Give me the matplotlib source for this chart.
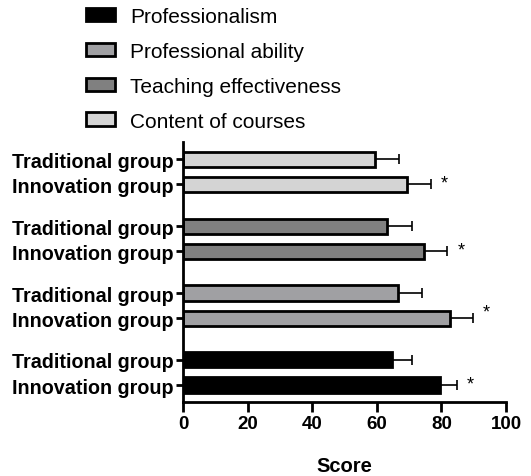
import numpy as np
import matplotlib.pyplot as plt
from matplotlib.patches import Patch

plt.rcParams['font.family'] = ['Liberation Sans', 'DejaVu Sans']

# categories, bottom to top
categories = ['Professionalism', 'Professional ability', 'Teaching effectiveness', 'Content of courses']
colors = ['#000000', '#a0a0a3', '#808080', '#d4d4d4']

innovation_mean = [79.7, 82.6, 74.6, 69.4]
innovation_sd = [5.2, 7.2, 7.2, 7.4]
traditional_mean = [64.6, 66.5, 63.3, 59.5]
traditional_sd = [6.3, 7.4, 7.6, 7.3]

star_x = [89, 94, 86, 81]

group_gap = 2.67
base = np.arange(len(categories)) * group_gap
pos_innov = base
pos_trad = base + 1.0

fig = plt.figure(figsize=(5.31, 4.77), dpi=100)
ax = fig.add_axes([0.3446, 0.155, 0.6084, 0.545])

bh = 0.6
for i in range(len(categories)):
    for pos, m, s in [(pos_innov[i], innovation_mean[i], innovation_sd[i]),
                      (pos_trad[i], traditional_mean[i], traditional_sd[i])]:
        ax.barh(pos, m, height=bh, color=colors[i], edgecolor='black', linewidth=2, zorder=2)
        ax.errorbar(m, pos, xerr=[[0], [s]], fmt='none', ecolor='black',
                    elinewidth=1.2, capsize=3.3, capthick=1.2, zorder=1)
    ax.text(star_x[i], pos_innov[i] + (0.25 if i == 1 else 0.05), '*', ha='center', va='center',
            fontsize=13)

yticks = []
ylabels = []
for i in range(len(categories)):
    yticks += [pos_innov[i], pos_trad[i]]
    ylabels += ['Innovation group', 'Traditional group']
ax.set_yticks(yticks)
ax.set_yticklabels(ylabels, fontsize=14.2, fontweight='bold')

ax.set_xlim(0, 100)
ax.set_xticks(np.arange(0, 101, 20))
ax.set_xticklabels([str(v) for v in range(0, 101, 20)], fontsize=13.5, fontweight='bold')
ax.set_ylim(-0.68, pos_trad[-1] + 0.68)
ax.set_xlabel('Score', fontsize=14.5, fontweight='bold', labelpad=17)

for side in ['top', 'right']:
    ax.spines[side].set_visible(False)
for side in ['left', 'bottom']:
    ax.spines[side].set_linewidth(2)
ax.tick_params(axis='y', direction='out', length=5, width=2, pad=2)
ax.tick_params(axis='x', direction='out', length=7, width=2, pad=2.5)

handles = [Patch(facecolor=c, edgecolor='black', linewidth=2) for c in colors]
fig.legend(handles, categories, loc='upper left', bbox_to_anchor=(86 / 531, 1 - 8 / 477),
           frameon=False, fontsize=15, handlelength=1.4, handleheight=0.62,
           handletextpad=0.72, labelspacing=0.76, borderpad=0, borderaxespad=0)

fig.savefig('out.png', dpi=100)
